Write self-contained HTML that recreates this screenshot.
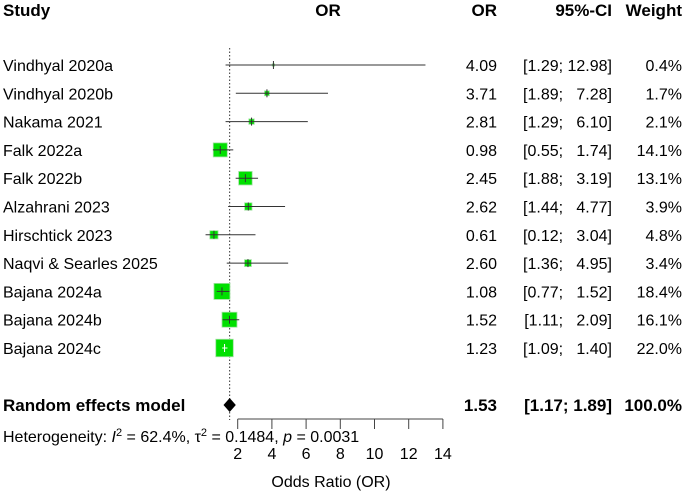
<!DOCTYPE html>
<html><head><meta charset="utf-8"><style>
body{margin:0;background:#fff;font-family:"Liberation Sans",Arial,sans-serif;}
svg text{font-family:"Liberation Sans",Arial,sans-serif;font-size:16px;fill:#000;}
svg text.b{font-size:17px;font-weight:bold;}
</style></head><body>
<svg id="c" width="685" height="492" viewBox="0 0 685 492">
<text class="b" x="3" y="16">Study</text>
<text class="b" x="328" y="16" text-anchor="middle">OR</text>
<text class="b" x="497" y="16" text-anchor="end">OR</text>
<text class="b" x="612" y="16" text-anchor="end">95%-CI</text>
<text class="b" x="682" y="16" text-anchor="end">Weight</text>
</svg>
<script>
const studies=["Vindhyal 2020a","Vindhyal 2020b","Nakama 2021","Falk 2022a","Falk 2022b","Alzahrani 2023","Hirschtick 2023","Naqvi & Searles 2025","Bajana 2024a","Bajana 2024b","Bajana 2024c"];
const orVals=[4.09,3.71,2.81,0.98,2.45,2.62,0.61,2.60,1.08,1.52,1.23];
const lowers=[1.29,1.89,1.29,0.55,1.88,1.44,0.12,1.36,0.77,1.11,1.09];
const uppers=[12.98,7.28,6.10,1.74,3.19,4.77,3.04,4.95,1.52,2.09,1.40];
const weights=[0.4,1.7,2.1,14.1,13.1,3.9,4.8,3.4,18.4,16.1,22.0];
const pooled=[1.53,1.17,1.89];
const ticks=[2,4,6,8,10,12,14];
const NS="http://www.w3.org/2000/svg";
const svg=document.getElementById('c');
const x=v=>220.6+(v-1)*17.1;
const rowY=i=>65+i*28.3;
function mk(t,a,p){const e=document.createElementNS(NS,t);for(const k in a)e.setAttribute(k,a[k]);(p||svg).appendChild(e);return e;}
const f2=v=>v.toFixed(2);
const ref=mk('line',{x1:x(pooled[0]),x2:x(pooled[0]),y1:48,y2:420,stroke:'#333','stroke-dasharray':'1.5,2','stroke-width':1});


studies.forEach((s,i)=>{
  const y=rowY(i);
  const t=mk('text',{x:3,y:y+6});t.textContent=s;
  
  
  const sz=17.5*Math.sqrt(weights[i]/22);
  const b=mk('rect',{x:x(orVals[i])-sz/2,y:y-sz/2,width:sz,height:sz,fill:'#00e000',stroke:'#a0e0a0','stroke-width':0.8});
  
  
  const col=i==10?'#fff':'#333';
  const l=mk('line',{x1:x(lowers[i]),x2:x(uppers[i]),y1:y,y2:y,stroke:col,'stroke-width':1});
  
  
  const tk=mk('line',{x1:x(orVals[i]),x2:x(orVals[i]),y1:y-4,y2:y+4,stroke:col,'stroke-width':1});
  
  
  const o=mk('text',{x:497,y:y+6,'text-anchor':'end'});o.textContent=f2(orVals[i]);
  
  
  const lo=f2(lowers[i]), up=f2(uppers[i]);
  const c=mk('text',{x:612,y:y+6,'text-anchor':'end','xml:space':'preserve'});
  c.textContent='['+lo+'; '+(up.length<5?'\u2007':'')+up+']';
  
  
  const w=mk('text',{x:682,y:y+6,'text-anchor':'end'});w.textContent=weights[i].toFixed(1)+'%';
  
  
});
const py=405;
let t=mk('text',{x:3,y:py+6,'class':'b'});t.textContent='Random effects model';


const d=mk('polygon',{points:`${x(pooled[1])},${py} ${x(pooled[0])},${py-7} ${x(pooled[2])},${py} ${x(pooled[0])},${py+7}`,fill:'#000'});


t=mk('text',{x:497,y:py+6,'text-anchor':'end','class':'b'});t.textContent=f2(pooled[0]);


t=mk('text',{x:612,y:py+6,'text-anchor':'end','class':'b'});t.textContent='['+f2(pooled[1])+'; '+f2(pooled[2])+']';


t=mk('text',{x:682,y:py+6,'text-anchor':'end','class':'b'});t.textContent='100.0%';


const ax=mk('line',{x1:x(ticks[0]),x2:x(ticks[ticks.length-1]),y1:419,y2:419,stroke:'#444'});


ticks.forEach(v=>{
  const l=mk('line',{x1:x(v),x2:x(v),y1:419,y2:429,stroke:'#444'});
  
  
  const tl=mk('text',{x:x(v),y:459,'text-anchor':'middle','font-size':'17'});tl.textContent=v;
  
  
});
const h=mk('text',{x:3,y:442,'font-size':'15'});
h.innerHTML='Heterogeneity: <tspan font-style="italic">I</tspan><tspan dy="-6" font-size="11">2</tspan><tspan dy="6"> = 62.4%, τ</tspan><tspan dy="-6" font-size="11">2</tspan><tspan dy="6"> = 0.1484, </tspan><tspan font-style="italic">p</tspan> = 0.0031';


const xt=mk('text',{x:331,y:487,'text-anchor':'middle','font-size':'17'});xt.textContent='Odds Ratio (OR)';


</script>
</body></html>
